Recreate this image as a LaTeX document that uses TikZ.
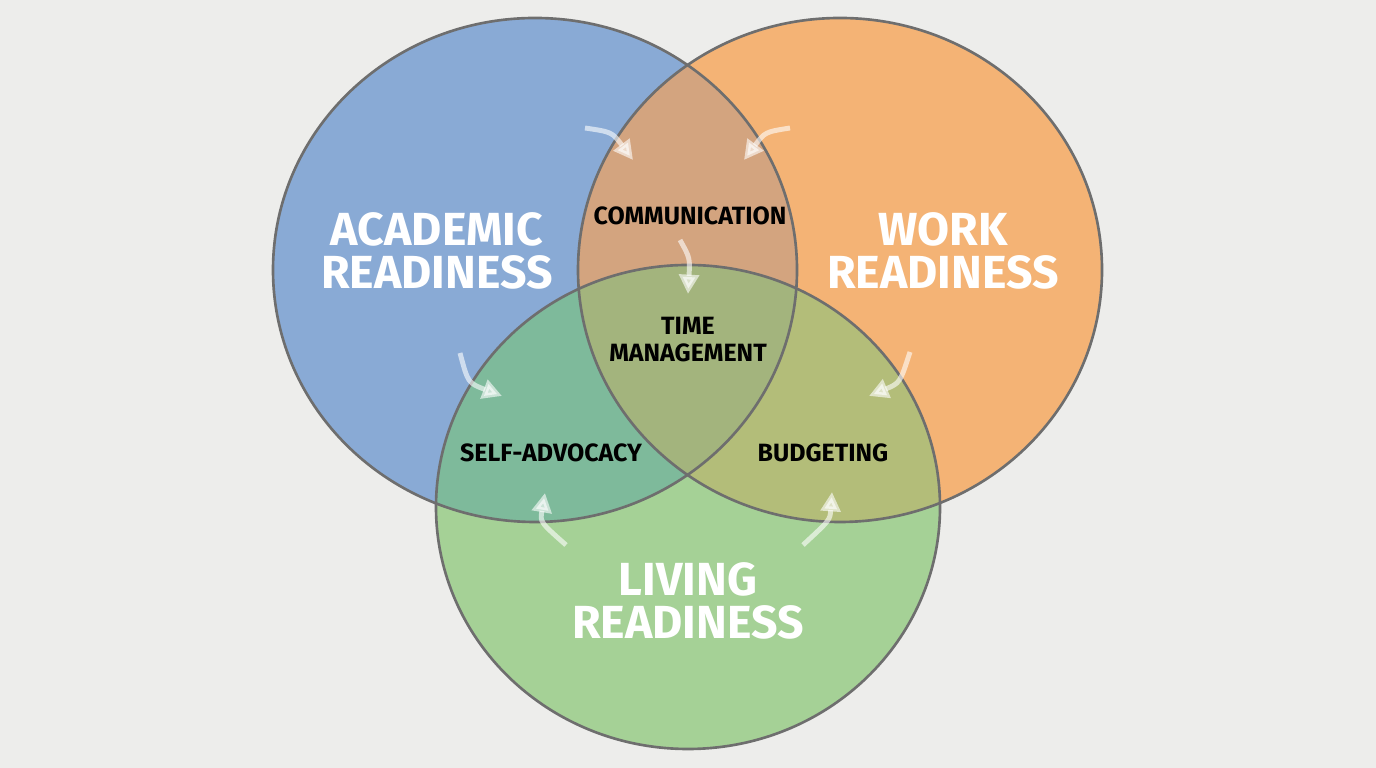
\documentclass[tikz,border=0pt]{standalone}
\usepackage{fontspec}
\setmainfont{Fira Sans}
\usepackage{tikz}
\usetikzlibrary{arrows.meta}
\definecolor{bgcol}{HTML}{EDEDEB}
\definecolor{acadcol}{HTML}{89AAD5}
\definecolor{workcol}{HTML}{F4B375}
\definecolor{livcol}{HTML}{A5D196}
\definecolor{awcol}{HTML}{D3A47F}
\definecolor{alcol}{HTML}{7EBA9B}
\definecolor{wlcol}{HTML}{B3BD79}
\definecolor{allcol}{HTML}{A3B47D}
\definecolor{rimcol}{HTML}{6E6E6E}
\newcommand{\acadshape}{(acad) ellipse [x radius=262, y radius=252]}
\newcommand{\workshape}{(work) ellipse [x radius=262, y radius=252]}
\newcommand{\livshape}{(liv) ellipse [x radius=252, y radius=242]}

\begin{document}
\begin{tikzpicture}[x=0.01cm, y=-0.01cm,
    rim/.style = {draw=rimcol, line width=0.75pt},
    big/.style = {text=white, font=\fontsize{13.2}{12.4}\selectfont\bfseries, align=center},
    small/.style = {text=black, font=\fontsize{7.1}{7.7}\selectfont\bfseries, align=center},
    flow/.style = {white, opacity=0.6, line width=1.4pt, -{Triangle[length=5.5pt, width=5.5pt]}}]
    % Background

    \fill[bgcol] (0,0) rectangle (1376,768);
    \useasboundingbox (0,0) rectangle (1376,768);

    \coordinate (acad) at (535,270);
    \coordinate (work) at (840,270);
    \coordinate (liv) at (688,507);

    % Circles

    \fill[acadcol] \acadshape;
    \fill[workcol] \workshape;
    \fill[livcol] \livshape;

    \begin{scope}
      \clip \acadshape;
      \fill[awcol] \workshape;
      \fill[alcol] \livshape;
    \end{scope}
    \begin{scope}
      \clip \workshape;
      \fill[wlcol] \livshape;
    \end{scope}
    \begin{scope}
      \clip \acadshape;
      \clip \workshape;
      \fill[allcol] \livshape;
    \end{scope}

    \draw[rim] \acadshape;
    \draw[rim] \workshape;
    \draw[rim] \livshape;

    % Nodes

    \node[big] (academic) at (437,251) {ACADEMIC\\READINESS};
    \node[big] (workr) at (943,251) {WORK\\READINESS};
    \node[big] (living) at (688,601) {LIVING\\READINESS};

    \node[small] (comm) at (690,216) {COMMUNICATION};
    \node[small] (time) at (688,340) {TIME\\MANAGEMENT};
    \node[small] (self) at (551,453) {SELF-ADVOCACY};
    \node[small] (budget) at (823,453) {BUDGETING};

    \coordinate (a1) at (585,128);
    \coordinate (b1) at (633,160);
    \coordinate (a2) at (790,128);
    \coordinate (b2) at (744,160);
    \coordinate (a3) at (680,240);
    \coordinate (b3) at (688,294);
    \coordinate (a4) at (460,353);
    \coordinate (b4) at (502,396);
    \coordinate (a5) at (566,545);
    \coordinate (b5) at (545,493);
    \coordinate (a6) at (910,352);
    \coordinate (b6) at (869,396);
    \coordinate (a7) at (803,545);
    \coordinate (b7) at (832,492);

    % Edges

    \draw[flow] (a1) .. controls (612,132) .. (b1);
    \draw[flow] (a2) .. controls (765,132) .. (b2);
    \draw[flow] (a3) .. controls (690,258) .. (b3);
    \draw[flow] (a4) .. controls (468,383) .. (b4);
    \draw[flow] (a5) .. controls (540,522) .. (b5);
    \draw[flow] (a6) .. controls (900,383) .. (b6);
    \draw[flow] (a7) .. controls (830,520) .. (b7);

\end{tikzpicture}
\end{document}
